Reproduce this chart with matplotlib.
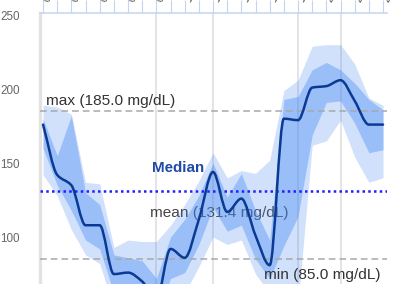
import matplotlib
matplotlib.use("Agg")
import matplotlib.pyplot as plt
import numpy as np
from matplotlib.path import Path
from matplotlib.patches import PathPatch
from matplotlib.transforms import blended_transform_factory

plt.rcParams['font.family'] = ['Liberation Sans', 'DejaVu Sans']

# hourly glucose profile (mg/dL), 0..24 h
hours = list(range(25))
p90 = [189, 188, 183, 137, 136, 93, 98, 97, 97, 108, 122, 138, 157, 140, 145, 143, 152, 199, 206, 229, 230, 230, 217, 194, 189]
p75 = [180, 155, 182, 130, 122, 88, 86, 84, 72, 100, 112, 128, 150, 127, 143, 118, 98, 193, 195, 213, 218, 213, 204, 193, 186]
p50 = [176, 142, 135, 108, 108, 75, 76, 70, 58, 92, 86, 112, 144, 117, 126, 101, 81, 180, 179, 201, 202, 206, 192, 176, 176]
p25 = [160, 135, 118, 98, 92, 62, 62, 55, 48, 72, 76, 95, 120, 104, 108, 85, 72, 94, 114, 169, 191, 192, 177, 157, 159]
p10 = [142, 128, 105, 88, 82, 52, 55, 48, 40, 58, 62, 80, 100, 95, 98, 75, 62, 58, 55, 162, 165, 179, 154, 137, 140]

max_val = 185.0
min_val = 85.0
mean_val = 131.4
grid_hours = [8, 12, 18, 21]
y_ticks = [100, 150, 200, 250]
hour_labels = [f"{h:02d}:00" for h in range(0, 25, 2)]

BAND = '#4285f4'


def smooth_path(xs, ys):
    """Monotone cubic Bezier path through the points (no overshoot)."""
    xs = np.asarray(xs, float)
    ys = np.asarray(ys, float)
    dx = np.diff(xs)
    d = np.diff(ys) / dx
    m = np.zeros(len(xs))
    m[0], m[-1] = d[0], d[-1]
    for i in range(1, len(xs) - 1):
        if d[i - 1] * d[i] > 0:
            m[i] = 2.0 / (1.0 / d[i - 1] + 1.0 / d[i])
    verts = [(xs[0], ys[0])]
    codes = [Path.MOVETO]
    for i in range(len(xs) - 1):
        h = dx[i] / 3.0
        verts += [(xs[i] + h, ys[i] + m[i] * h),
                  (xs[i + 1] - h, ys[i + 1] - m[i + 1] * h),
                  (xs[i + 1], ys[i + 1])]
        codes += [Path.CURVE4] * 3
    return Path(verts, codes)


fig = plt.figure(figsize=(4, 2.84), dpi=100)
ax = fig.add_axes([39.5 / 400, 0, 347.5 / 400, 271 / 284])
ax.set_xlim(-0.25, 24.28)
ax.set_ylim(68.3, 251.4)

# vertical guide lines
for g in grid_hours:
    ax.axvline(g, color='#dcdcdc', lw=1.1, zorder=0)

# mean label sits under the bands
ax.text(7.55, 113.9, f"mean ({mean_val} mg/dL)", fontsize=11.1, color='#444444',
        va='baseline', zorder=1)

ax.fill_between(hours, p10, p90, color=BAND, alpha=0.24, lw=0, zorder=2)
ax.fill_between(hours, p25, p75, color=BAND, alpha=0.38, lw=0, zorder=2.1)

ax.axhline(max_val, color='#a8a8a8', lw=1.1, dashes=(4.4, 2.6), zorder=3)
ax.axhline(min_val, color='#a8a8a8', lw=1.1, dashes=(4.4, 2.6), zorder=3)
ax.axhline(mean_val, color='#1f1fff', lw=1.8, dashes=(1, 1.3), zorder=3.5)

ax.add_patch(PathPatch(smooth_path(hours, p50), fill=False, edgecolor='#0b3a94',
                       lw=1.8, zorder=4, capstyle='round', joinstyle='round'))

ax.text(0.2, 189.2, f"max ({max_val} mg/dL)", fontsize=11.1, color='#333333',
        va='baseline', zorder=5)
ax.text(23.8, 71.8, f"min ({min_val} mg/dL)", fontsize=11.1, color='#333333',
        va='baseline', ha='right', zorder=5)
ax.text(7.7, 144.1, "Median", fontsize=10.9, color='#1f4aa8', fontweight='bold',
        va='baseline', zorder=5)

# axes styling
for s in ['right', 'bottom']:
    ax.spines[s].set_visible(False)
ax.spines['left'].set_color('#e2e2e2')
ax.spines['left'].set_linewidth(2.4)
ax.spines['top'].set_color('#c6d4f2')
ax.spines['top'].set_linewidth(1.1)

ax.set_yticks(y_ticks)
ax.tick_params(axis='y', length=0, pad=14, labelsize=8.4, labelcolor='#666666')

ax.xaxis.tick_top()
ax.set_xticks(hours)
ax.set_xticklabels([])
ax.tick_params(axis='x', direction='out', length=9.4, width=0.8, color='#c6d4f2')

# rotated hour labels above the ticks (only their feet fall inside the crop)
trans = blended_transform_factory(ax.transData, ax.transAxes)
for i, lab in enumerate(hour_labels):
    ax.text(i * 2 + 0.2, 1 + 11.5 / 271, lab, transform=trans, rotation=60,
            rotation_mode='anchor', ha='left', va='center', fontsize=8.4,
            color='#666666', clip_on=False)

fig.savefig('out.png', dpi=100)
